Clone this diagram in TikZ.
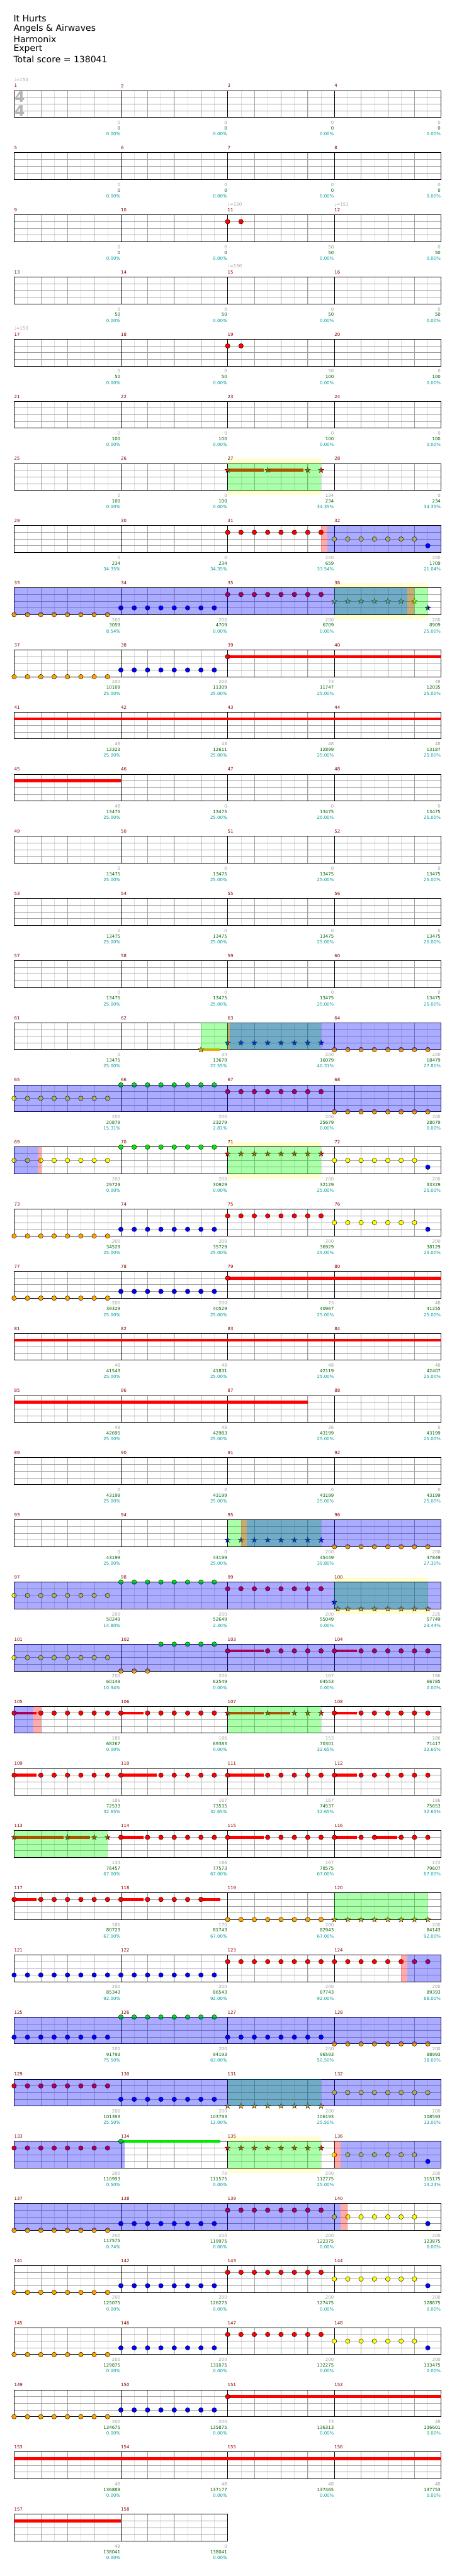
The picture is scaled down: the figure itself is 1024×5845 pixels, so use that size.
\documentclass[tikz,border=0pt]{standalone}
\usepackage{fontspec}
\setmainfont{DejaVu Sans}
\usetikzlibrary{shapes.geometric}
\definecolor{mred}{RGB}{139,0,0}
\definecolor{sgray}{RGB}{160,160,160}
\definecolor{sgreen}{RGB}{0,100,0}
\definecolor{steal}{RGB}{0,155,155}
\definecolor{gR}{RGB}{255,0,0}
\definecolor{gY}{RGB}{255,255,0}
\definecolor{gB}{RGB}{0,0,255}
\definecolor{gO}{RGB}{255,165,0}
\definecolor{gG}{RGB}{0,235,0}
\definecolor{ovG}{RGB}{0,255,0}
\definecolor{ovB}{RGB}{0,0,255}
\definecolor{ovR}{RGB}{255,0,0}
\definecolor{ybg}{RGB}{255,255,208}
\definecolor{ltgray}{RGB}{222,222,222}
\definecolor{tsgray}{RGB}{180,180,180}
\tikzset{
 eighthl/.style={ltgray, line width=0.7},
 beatl/.style={sgray, line width=0.9},
 lanel/.style={sgray, line width=1.1},
 measl/.style={black, line width=0.9},
 borderl/.style={black, line width=1.4},
 gem/.style={draw=black, line width=0.6},
 sgem/.style={star, star points=5, star point ratio=2.5, minimum size=13, inner sep=0, draw=black, line width=0.5},
 mnum/.style={anchor=west, inner sep=0, text=mred, font=\fontsize{10}{12}\selectfont},
 snum/.style={anchor=east, inner sep=0, font=\fontsize{10}{12}\selectfont},
 tempo/.style={anchor=west, inner sep=0, text=sgray, font=\fontsize{10}{12}\selectfont},
 titletxt/.style={anchor=west, inner sep=0, font=\fontsize{20}{24}\selectfont},
 tsig/.style={inner sep=0, text=tsgray, font=\fontsize{33}{33}\selectfont\bfseries},
}
\newcommand\zR[1]{\pgfmathsetmacro\rt{205.7+141*#1}}
\newcommand\zGr[2]{%
 \pgfmathsetmacro\qxe{32+242*#2}%
 \fill[white] (32,\rt) rectangle (\qxe,{\rt+60.8});%
 \pgfmathtruncatemacro\qne{8*#2-1}%
 \foreach \i in {1,...,\qne}{\draw[eighthl] ({32+30.25*\i},\rt) -- ++(0,60.8);}%
 \pgfmathtruncatemacro\qnb{4*#2-1}%
 \foreach \i in {1,...,\qnb}{\draw[beatl] ({32+60.5*\i},\rt) -- ++(0,60.8);}%
 \foreach \l in {1,2,3}{\draw[lanel] (32,{\rt+15.2*\l}) -- (\qxe,{\rt+15.2*\l});}%
 \pgfmathtruncatemacro\qnm{#2-1}%
 \foreach \i in {1,...,\qnm}{\draw[measl] ({32+242*\i},\rt) -- ++(0,60.8);}%
 \draw[borderl] (32,\rt) rectangle (\qxe,{\rt+60.8});%
 \foreach \i in {0,...,\qnm}{\node[mnum] at ({32+242*\i},{\rt-11}) {\the\numexpr#1+\i\relax};}%
}
\newcommand\zG[3]{\draw[gem,fill=#3] ({32+30.25*(#1)},{\rt+15.2*(#2)}) circle (5.3);}
\newcommand\zGs[4]{\foreach \e in {#1,...,#2}{\zG{\e}{#3}{#4}}}
\newcommand\zS[3]{\node[sgem,fill=#3] at ({32+30.25*(#1)},{\rt+15.2*(#2)}) {};}
\newcommand\zSs[4]{\foreach \e in {#1,...,#2}{\zS{\e}{#3}{#4}}}
\newcommand\zSu[4]{\fill[#4] ({32+30.25*(#1)},{\rt+15.2*(#3)-3.3}) rectangle ({32+30.25*(#2)},{\rt+15.2*(#3)+3.3});}
\newcommand\zOv[3]{\fill[#1,fill opacity=0.33] ({32+30.25*(#2)},\rt) rectangle ({32+30.25*(#3)},{\rt+60.8});}
\newcommand\zYb[2]{\fill[ybg] ({32+30.25*(#1)},{\rt-11}) rectangle ({32+30.25*(#2)},{\rt+71.5});}
\newcommand\zT[2]{\node[tempo] at ({32+30.25*(#1)},{\rt-24.5}) {♩=#2};}
\newcommand\zSt[4]{%
 \node[snum,text=sgray] at ({31+242*(#1+1)},{\rt+72.6}) {#2};%
 \node[snum,text=sgreen] at ({31+242*(#1+1)},{\rt+85.3}) {#3};%
 \node[snum,text=steal] at ({31+242*(#1+1)},{\rt+98.6}) {#4\%};}
\newcommand\zSA[3]{\zSt{0}{#1}{#2}{#3}\zSt{1}{#1}{#2}{#3}\zSt{2}{#1}{#2}{#3}\zSt{3}{#1}{#2}{#3}}
\begin{document}
\begin{tikzpicture}[x=1pt,y=-1pt]
\fill[white] (0,0) rectangle (1024,5845);
\useasboundingbox (0,0) rectangle (1024,5845);
\node[titletxt] (t1) at (30.5,41.7) {It Hurts};
\node[titletxt] (t2) at (30.5,65) {Angels \& Airwaves};
\node[titletxt] (t3) at (30.5,88.3) {Harmonix};
\node[titletxt] (t4) at (30.5,111) {Expert};
\node[titletxt] (t5) at (30.5,134.3) {Total score = 138041};
% row 0
\zR{0}\zGr{1}{4}\zT{0}{150}
\node[tsig] at (45,{\rt+14.6}) {4};
\node[tsig] at (45,{\rt+45.3}) {4};
\zSA{0}{0}{0.00}
% row 1
\zR{1}\zGr{5}{4}\zSA{0}{0}{0.00}
% row 2
\zR{2}\zGr{9}{4}\zT{16}{150}\zT{24}{151}\zGs{16}{17}{1}{gR}
\zSt{0}{0}{0}{0.00}\zSt{1}{0}{0}{0.00}\zSt{2}{50}{50}{0.00}\zSt{3}{0}{50}{0.00}
% row 3
\zR{3}\zGr{13}{4}\zT{16}{150}\zSA{0}{50}{0.00}
% row 4
\zR{4}\zGr{17}{4}\zT{0}{150}\zGs{16}{17}{1}{gR}
\zSt{0}{0}{50}{0.00}\zSt{1}{0}{50}{0.00}\zSt{2}{50}{100}{0.00}\zSt{3}{0}{100}{0.00}
% row 5
\zR{5}\zGr{21}{4}\zSA{0}{100}{0.00}
% row 6
\zR{6}\zYb{16}{23}\zGr{25}{4}
\zSu{16}{18.7}{1}{gR}\zSu{19}{21.7}{1}{gR}
\zS{16}{1}{gR}\zS{19}{1}{gR}\zS{22}{1}{gR}\zS{23}{1}{gR}
\zOv{ovG}{16}{23}
\zSt{0}{0}{100}{0.00}\zSt{1}{0}{100}{0.00}\zSt{2}{134}{234}{34.35}\zSt{3}{0}{234}{34.35}
% row 7
\zR{7}\zGr{29}{4}
\zGs{16}{23}{1}{gR}\zGs{24}{30}{2}{gY}\zG{31}{3}{gB}
\zOv{ovR}{23}{23.45}\zOv{ovB}{23.45}{32}
\zSt{0}{0}{234}{34.35}\zSt{1}{0}{234}{34.35}\zSt{2}{200}{659}{33.54}\zSt{3}{200}{1709}{21.04}
% row 8
\zR{8}\zYb{24}{31}\zGr{33}{4}
\zGs{0}{7}{4}{gO}\zGs{8}{15}{3}{gB}\zGs{16}{23}{1}{gR}\zSs{24}{30}{2}{gY}\zS{31}{3}{gB}
\zOv{ovG}{24}{31}\zOv{ovB}{0}{29.44}\zOv{ovR}{29.44}{30}
\zSt{0}{200}{3059}{8.54}\zSt{1}{200}{4709}{0.00}\zSt{2}{200}{6709}{0.00}\zSt{3}{200}{8909}{25.00}
% row 9
\zR{9}\zGr{37}{4}
\zGs{0}{7}{4}{gO}\zGs{8}{15}{3}{gB}\zSu{16}{32}{1}{gR}\zG{16}{1}{gR}
\zSt{0}{200}{10109}{25.00}\zSt{1}{200}{11309}{25.00}\zSt{2}{73}{11747}{25.00}\zSt{3}{48}{12035}{25.00}
% row 10
\zR{10}\zGr{41}{4}\zSu{0}{32}{1}{gR}
\zSt{0}{48}{12323}{25.00}\zSt{1}{48}{12611}{25.00}\zSt{2}{48}{12899}{25.00}\zSt{3}{48}{13187}{25.00}
% row 11
\zR{11}\zGr{45}{4}\zSu{0}{8}{1}{gR}
\zSt{0}{48}{13475}{25.00}\zSt{1}{0}{13475}{25.00}\zSt{2}{0}{13475}{25.00}\zSt{3}{0}{13475}{25.00}
% rows 12-14
\zR{12}\zGr{49}{4}\zSA{0}{13475}{25.00}
\zR{13}\zGr{53}{4}\zSA{0}{13475}{25.00}
\zR{14}\zGr{57}{4}\zSA{0}{13475}{25.00}
% row 15
\zR{15}\zGr{61}{4}
\zSu{14}{15.46}{4}{gO}\zS{14}{4}{gO}\zSs{16}{23}{3}{gB}\zGs{24}{31}{4}{gO}
\zOv{ovG}{14}{23}\zOv{ovR}{16}{16.15}\zOv{ovB}{16.15}{32}
\zSt{0}{0}{13475}{25.00}\zSt{1}{34}{13679}{27.55}\zSt{2}{200}{16079}{40.31}\zSt{3}{200}{18479}{27.81}
% row 16
\zR{16}\zGr{65}{4}
\zGs{0}{7}{2}{gY}\zGs{8}{15}{0}{gG}\zGs{16}{23}{1}{gR}\zGs{24}{31}{4}{gO}
\zOv{ovB}{0}{32}
\zSt{0}{200}{20879}{15.31}\zSt{1}{200}{23279}{2.81}\zSt{2}{200}{25679}{0.00}\zSt{3}{200}{28079}{0.00}
% row 17
\zR{17}\zYb{16}{23}\zGr{69}{4}
\zGs{0}{7}{2}{gY}\zGs{8}{15}{0}{gG}\zSs{16}{23}{1}{gR}\zGs{24}{30}{2}{gY}\zG{31}{3}{gB}
\zOv{ovG}{16}{23}\zOv{ovB}{0}{1.775}\zOv{ovR}{1.775}{2}
\zSt{0}{200}{29729}{0.00}\zSt{1}{200}{30929}{0.00}\zSt{2}{200}{32129}{25.00}\zSt{3}{200}{33329}{25.00}
% row 18
\zR{18}\zGr{73}{4}
\zGs{0}{7}{4}{gO}\zGs{8}{15}{3}{gB}\zGs{16}{23}{1}{gR}\zGs{24}{30}{2}{gY}\zG{31}{3}{gB}
\zSt{0}{200}{34529}{25.00}\zSt{1}{200}{35729}{25.00}\zSt{2}{200}{36929}{25.00}\zSt{3}{200}{38129}{25.00}
% row 19
\zR{19}\zGr{77}{4}
\zGs{0}{7}{4}{gO}\zGs{8}{15}{3}{gB}\zSu{16}{32}{1}{gR}\zG{16}{1}{gR}
\zSt{0}{200}{39329}{25.00}\zSt{1}{200}{40529}{25.00}\zSt{2}{73}{40967}{25.00}\zSt{3}{48}{41255}{25.00}
% row 20
\zR{20}\zGr{81}{4}\zSu{0}{32}{1}{gR}
\zSt{0}{48}{41543}{25.00}\zSt{1}{48}{41831}{25.00}\zSt{2}{48}{42119}{25.00}\zSt{3}{48}{42407}{25.00}
% row 21
\zR{21}\zGr{85}{4}\zSu{0}{22}{1}{gR}
\zSt{0}{48}{42695}{25.00}\zSt{1}{48}{42983}{25.00}\zSt{2}{36}{43199}{25.00}\zSt{3}{0}{43199}{25.00}
% row 22
\zR{22}\zGr{89}{4}\zSA{0}{43199}{25.00}
% row 23
\zR{23}\zGr{93}{4}
\zSs{16}{23}{3}{gB}\zGs{24}{31}{4}{gO}
\zOv{ovG}{16}{23}\zOv{ovR}{17}{17.45}\zOv{ovB}{17.45}{32}
\zSt{0}{0}{43199}{25.00}\zSt{1}{0}{43199}{25.00}\zSt{2}{200}{45449}{39.80}\zSt{3}{200}{47849}{27.30}
% row 24
\zR{24}\zYb{24}{31}\zGr{97}{4}
\zGs{0}{7}{2}{gY}\zGs{8}{15}{0}{gG}\zGs{16}{23}{1}{gR}\zS{24}{3}{gB}\zS{24.25}{4}{gO}\zSs{25}{31}{4}{gO}
\zOv{ovG}{24}{31}\zOv{ovB}{0}{32}
\zSt{0}{200}{50249}{14.80}\zSt{1}{200}{52649}{2.30}\zSt{2}{200}{55049}{0.00}\zSt{3}{225}{57749}{23.44}
% row 25
\zR{25}\zGr{101}{4}
\zGs{0}{7}{2}{gY}\zGs{8}{10}{4}{gO}\zGs{11}{15}{0}{gG}
\zSu{16}{18.7}{1}{gR}\zG{16}{1}{gR}\zGs{19}{23}{1}{gR}
\zSu{24}{25.7}{1}{gR}\zG{24}{1}{gR}\zGs{26}{31}{1}{gR}
\zOv{ovB}{0}{32}
\zSt{0}{200}{60149}{10.94}\zSt{1}{200}{62549}{0.00}\zSt{2}{167}{64553}{0.00}\zSt{3}{186}{66785}{0.00}
% row 26
\zR{26}\zGr{105}{4}
\zSu{0}{1.7}{1}{gR}\zG{0}{1}{gR}\zGs{2}{7}{1}{gR}
\zSu{8}{9.7}{1}{gR}\zG{8}{1}{gR}\zGs{10}{15}{1}{gR}
\zSu{16}{18.7}{1}{gR}\zSu{19}{20.7}{1}{gR}
\zS{16}{1}{gR}\zS{19}{1}{gR}\zSs{21}{23}{1}{gR}
\zSu{24}{25.7}{1}{gR}\zG{24}{1}{gR}\zGs{26}{31}{1}{gR}
\zOv{ovG}{16}{23}\zOv{ovB}{0}{1.45}\zOv{ovR}{1.45}{2}
\zSt{0}{186}{68267}{0.00}\zSt{1}{186}{69383}{0.00}\zSt{2}{153}{70301}{32.65}\zSt{3}{186}{71417}{32.65}
% row 27
\zR{27}\zGr{109}{4}
\zSu{0}{1.7}{1}{gR}\zG{0}{1}{gR}\zGs{2}{7}{1}{gR}
\zSu{8}{10.7}{1}{gR}\zG{8}{1}{gR}\zGs{11}{15}{1}{gR}
\zSu{16}{18.7}{1}{gR}\zG{16}{1}{gR}\zGs{19}{23}{1}{gR}
\zSu{24}{25.7}{1}{gR}\zG{24}{1}{gR}\zGs{26}{31}{1}{gR}
\zSt{0}{186}{72533}{32.65}\zSt{1}{167}{73535}{32.65}\zSt{2}{167}{74537}{32.65}\zSt{3}{186}{75653}{32.65}
% row 28
\zR{28}\zGr{113}{4}
\zSu{0}{3.7}{1}{gR}\zSu{4}{5.7}{1}{gR}
\zS{0}{1}{gR}\zS{4}{1}{gR}\zS{6}{1}{gR}\zS{7}{1}{gR}
\zSu{8}{9.7}{1}{gR}\zG{8}{1}{gR}\zGs{10}{15}{1}{gR}
\zSu{16}{18.7}{1}{gR}\zG{16}{1}{gR}\zGs{19}{23}{1}{gR}
\zSu{24}{25.7}{1}{gR}\zSu{27}{28.7}{1}{gR}\zG{24}{1}{gR}\zGs{26}{27}{1}{gR}\zGs{29}{31}{1}{gR}
\zOv{ovG}{0}{7}
\zSt{0}{134}{76457}{67.00}\zSt{1}{186}{77573}{67.00}\zSt{2}{167}{78575}{67.00}\zSt{3}{172}{79607}{67.00}
% row 29
\zR{29}\zGr{117}{4}
\zSu{0}{1.7}{1}{gR}\zG{0}{1}{gR}\zGs{2}{7}{1}{gR}
\zSu{8}{9.7}{1}{gR}\zSu{14}{15.47}{1}{gR}\zG{8}{1}{gR}\zGs{10}{14}{1}{gR}
\zGs{16}{23}{4}{gO}\zSs{24}{31}{4}{gO}
\zOv{ovG}{24}{31}
\zSt{0}{186}{80723}{67.00}\zSt{1}{170}{81743}{67.00}\zSt{2}{200}{82943}{67.00}\zSt{3}{200}{84143}{92.00}
% row 30
\zR{30}\zGr{121}{4}
\zGs{0}{15}{3}{gB}\zGs{16}{31}{1}{gR}
\zOv{ovR}{29}{29.45}\zOv{ovB}{29.45}{32}
\zSt{0}{200}{85343}{92.00}\zSt{1}{200}{86543}{92.00}\zSt{2}{200}{87743}{92.00}\zSt{3}{200}{89393}{88.00}
% row 31
\zR{31}\zGr{125}{4}
\zGs{0}{7}{3}{gB}\zGs{8}{15}{0}{gG}\zGs{16}{23}{3}{gB}\zGs{24}{31}{4}{gO}
\zOv{ovB}{0}{32}
\zSt{0}{200}{91793}{75.50}\zSt{1}{200}{94193}{63.00}\zSt{2}{200}{96593}{50.50}\zSt{3}{200}{98993}{38.00}
% row 32
\zR{32}\zGr{129}{4}
\zGs{0}{7}{1}{gR}\zGs{8}{15}{3}{gB}\zSs{16}{23}{4}{gO}\zGs{24}{31}{2}{gY}
\zOv{ovG}{16}{23}\zOv{ovB}{0}{32}
\zSt{0}{200}{101393}{25.50}\zSt{1}{200}{103793}{13.00}\zSt{2}{200}{106193}{25.50}\zSt{3}{200}{108593}{13.00}
% row 33
\zR{33}\zYb{16}{23}\zGr{133}{4}
\zGs{0}{7}{1}{gR}\zSu{8}{15.47}{0}{gG}\zG{8}{0}{gG}\zSs{16}{23}{1}{gR}\zGs{24}{30}{2}{gY}\zG{31}{3}{gB}
\zOv{ovG}{16}{23}\zOv{ovB}{0}{8.29}\zOv{ovR}{24}{24.45}\zOv{ovB}{24.45}{32}
\zSt{0}{200}{110993}{0.50}\zSt{1}{70}{111575}{0.00}\zSt{2}{200}{112775}{25.00}\zSt{3}{200}{115175}{13.24}
% row 34
\zR{34}\zGr{137}{4}
\zGs{0}{7}{4}{gO}\zGs{8}{15}{3}{gB}\zGs{16}{23}{1}{gR}\zGs{24}{30}{2}{gY}\zG{31}{3}{gB}
\zOv{ovB}{0}{24.45}\zOv{ovR}{24.45}{25}
\zSt{0}{200}{117575}{0.74}\zSt{1}{200}{119975}{0.00}\zSt{2}{200}{122375}{0.00}\zSt{3}{200}{123875}{0.00}
% row 35
\zR{35}\zGr{141}{4}
\zGs{0}{7}{4}{gO}\zGs{8}{15}{3}{gB}\zGs{16}{23}{1}{gR}\zGs{24}{30}{2}{gY}\zG{31}{3}{gB}
\zSt{0}{200}{125075}{0.00}\zSt{1}{200}{126275}{0.00}\zSt{2}{200}{127475}{0.00}\zSt{3}{200}{128675}{0.00}
% row 36
\zR{36}\zGr{145}{4}
\zGs{0}{7}{4}{gO}\zGs{8}{15}{3}{gB}\zGs{16}{23}{1}{gR}\zGs{24}{30}{2}{gY}\zG{31}{3}{gB}
\zSt{0}{200}{129875}{0.00}\zSt{1}{200}{131075}{0.00}\zSt{2}{200}{132275}{0.00}\zSt{3}{200}{133475}{0.00}
% row 37
\zR{37}\zGr{149}{4}
\zGs{0}{7}{4}{gO}\zGs{8}{15}{3}{gB}\zSu{16}{32}{1}{gR}\zG{16}{1}{gR}
\zSt{0}{200}{134675}{0.00}\zSt{1}{200}{135875}{0.00}\zSt{2}{73}{136313}{0.00}\zSt{3}{48}{136601}{0.00}
% row 38
\zR{38}\zGr{153}{4}\zSu{0}{32}{1}{gR}
\zSt{0}{48}{136889}{0.00}\zSt{1}{48}{137177}{0.00}\zSt{2}{48}{137465}{0.00}\zSt{3}{48}{137753}{0.00}
% row 39
\zR{39}\zGr{157}{2}\zSu{0}{8}{1}{gR}
\zSt{0}{48}{138041}{0.00}\zSt{1}{0}{138041}{0.00}
\end{tikzpicture}
\end{document}
